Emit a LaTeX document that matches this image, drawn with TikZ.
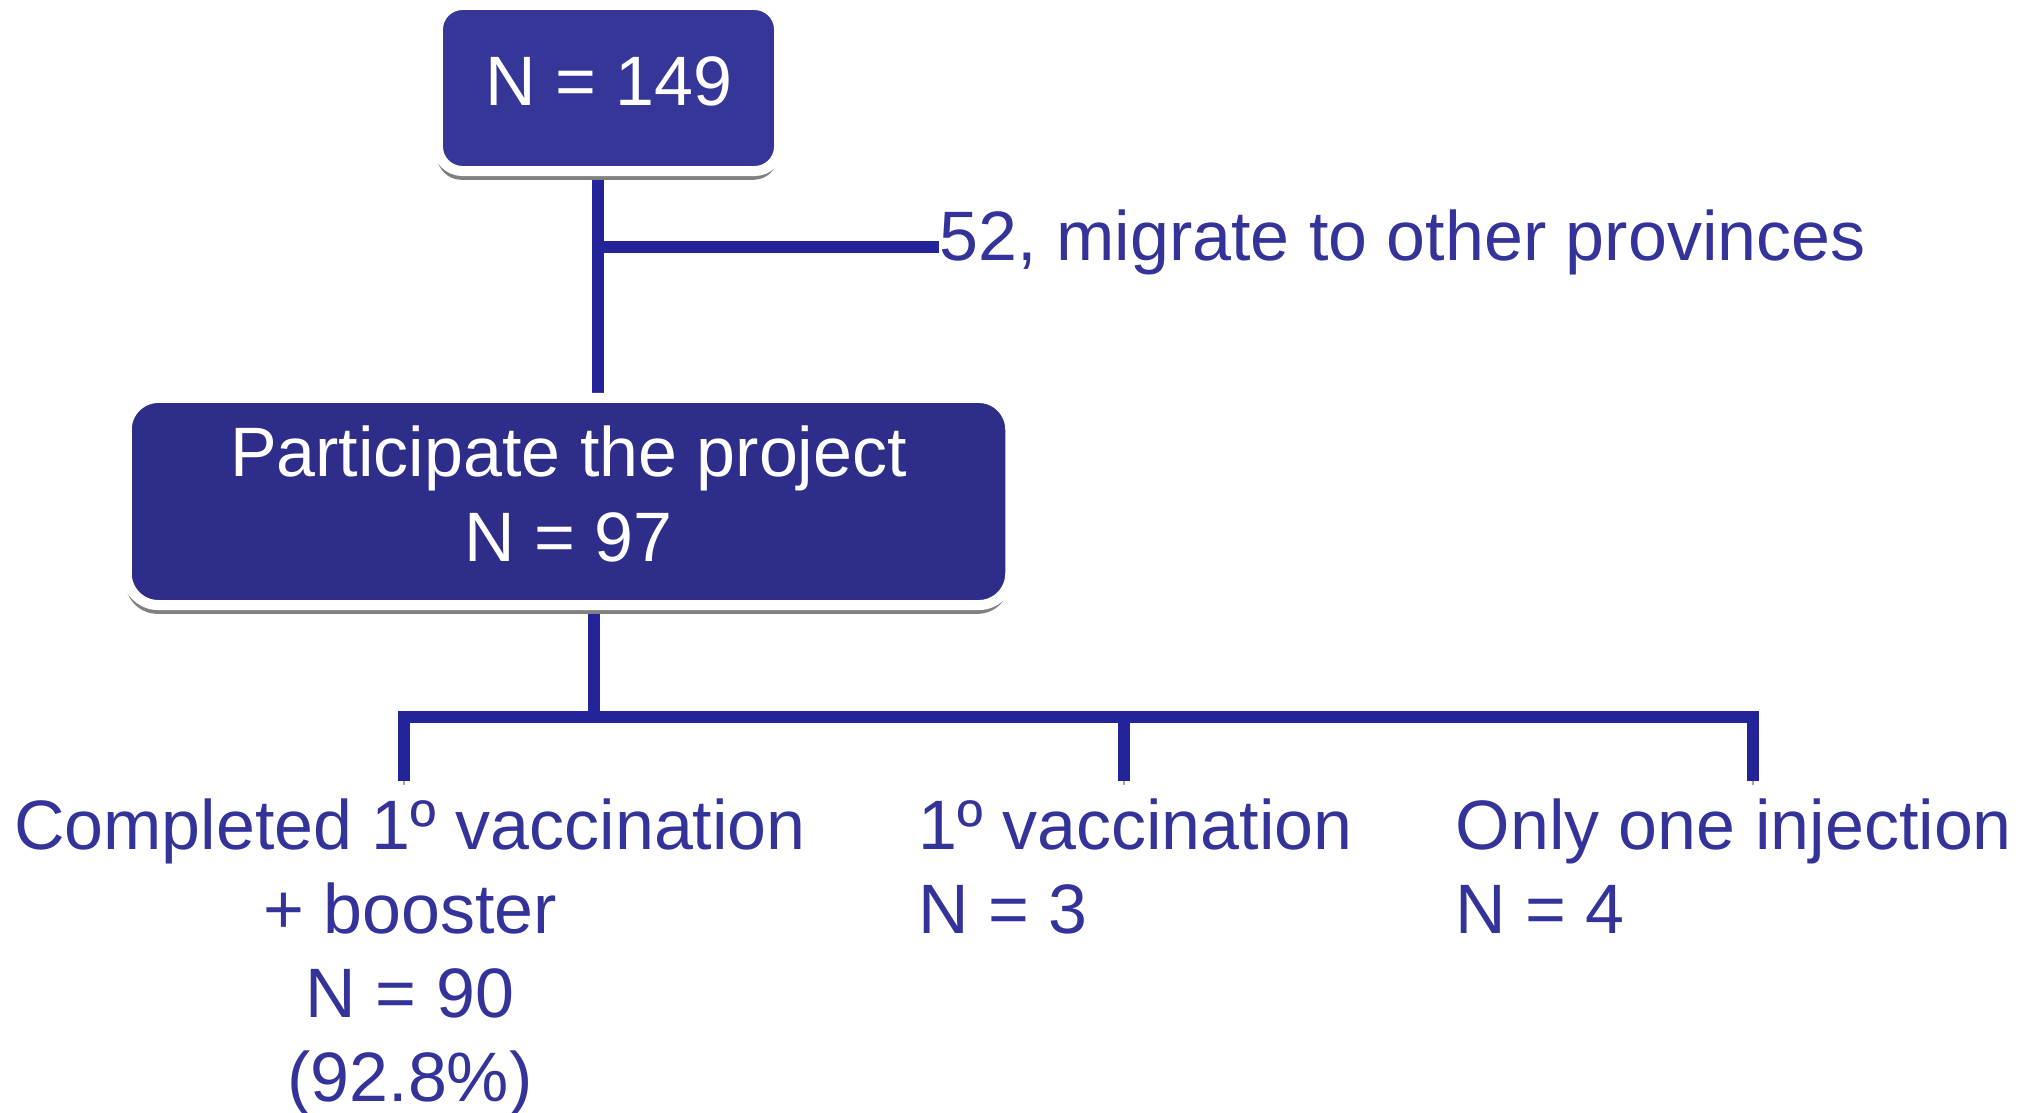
\documentclass[tikz,border=0pt]{standalone}
\usepackage{fontspec}
\setmainfont{Liberation Sans}
\usetikzlibrary{positioning,shadows,backgrounds}
\definecolor{boxtop}{RGB}{54,54,153}
\definecolor{boxmid}{RGB}{46,46,138}
\definecolor{linkblue}{RGB}{35,35,154}
\definecolor{labelblue}{RGB}{51,51,153}

\begin{document}
\begin{tikzpicture}[x=0.01cm,y=-0.01cm]
    \tikzstyle{every node}+=[inner sep=0pt,font=\fontsize{19.9pt}{23.9pt}\selectfont]
    \tikzstyle{flowbox}=[draw=white,line width=2.85pt,
        drop shadow={shadow xshift=-0.3pt,shadow yshift=-2.5pt,fill=black!50,opacity=1}]
    \tikzstyle{link}=[linkblue,line width=3.3pt,
        preaction={draw=black!35,transform canvas={yshift=-1.1pt}}]
    \tikzstyle{outtext}=[text=labelblue]
    \useasboundingbox (0,0) rectangle (2019,1113);
    \node [flowbox,rounded corners=7pt,fill=boxtop,minimum width=3.41cm,minimum height=1.66cm] (total) at (608.5,88) {};
    \node [text=white,anchor=base] (totaltext) at (609,106) {N = 149};
    \node [flowbox,rounded corners=9pt,fill=boxmid,minimum width=8.83cm,minimum height=2.07cm] (part) at (568.5,501.5) {};
    \node [text=white,align=center] (parttext) at (568.5,494) {Participate the project\\N = 97};
    \node [outtext,anchor=base west] (lost) at (939,261) {52, migrate to other provinces};
    \node [outtext,align=center,anchor=north] (c1) at (410,798) {Completed 1º vaccination\\+ booster\\N = 90\\(92.8\%)};
    \node [outtext,align=left,anchor=north west] (c2) at (918,798) {1º vaccination\\N = 3};
    \node [outtext,align=left,anchor=north west] (c3) at (1455,798) {Only one injection\\N = 4};
    \coordinate (j1) at (598,247);
    \coordinate (j2) at (594,717);
    \coordinate (d1) at (404,717);
    \coordinate (d2) at (1124,717);
    \coordinate (d3) at (1753,717);
    \begin{pgfonlayer}{background}
    \draw [link] (total.south -| j1) -- (part.north -| j1);
    \draw [link] (j1) -- (j1 -| lost.west);
    \draw [link] (part.south -| j2) -- (j2);
    \draw [link,line join=miter,shorten <=4.8pt,shorten >=4.8pt] (c1.north -| d1) -- (d1) -- (d3) -- (c3.north -| d3);
    \draw [link,shorten >=4.8pt] (d2) -- (c2.north -| d2);
    \end{pgfonlayer}
\end{tikzpicture}
\end{document}
